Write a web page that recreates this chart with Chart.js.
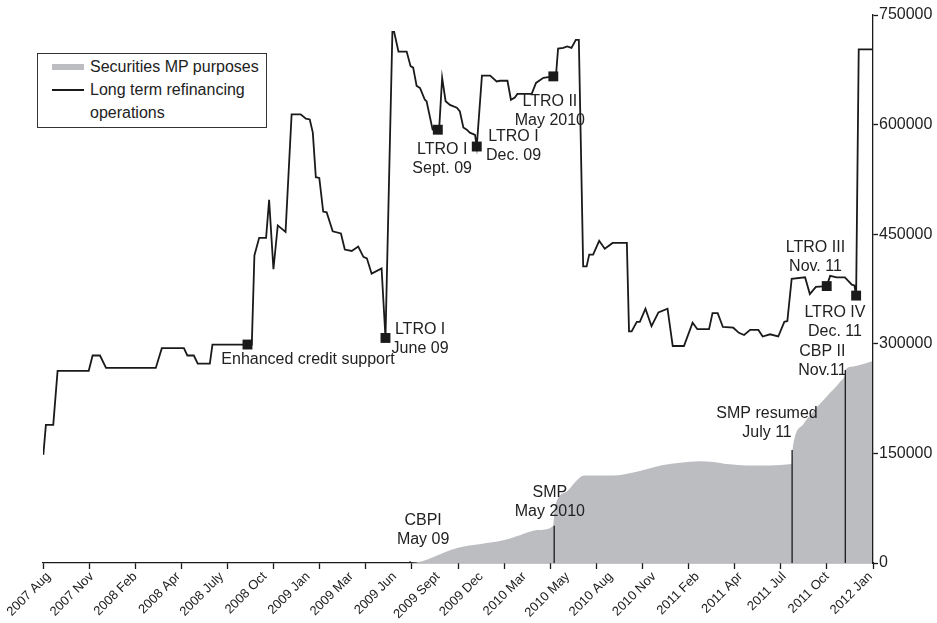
<!DOCTYPE html>
<html>
<head>
<meta charset="utf-8">
<script src="https://cdn.jsdelivr.net/npm/chart.js@4.4.1/dist/chart.umd.min.js"></script>
<style>
  html, body { margin: 0; padding: 0; background: #fff; }
  #wrap { position: relative; width: 937px; height: 623px; }
  #legend {
    position: absolute; left: 37px; top: 53px; width: 228px; height: 73px;
    border: 1px solid #333; background: #fff;
    font-family: "Liberation Sans", Arial, sans-serif; font-size: 16px; color: #222;
  }
  .sw { position: absolute; left: 14px; width: 32px; }
  .lt { position: absolute; left: 52px; line-height: 23px; white-space: nowrap; }
</style>
</head>
<body>
<div id="wrap">
  <canvas id="c" width="937" height="623"></canvas>
  <div id="legend">
    <div class="sw" style="top:10px;height:6px;background:#bcbdc1;"></div>
    <div class="lt" style="top:1px;">Securities MP purposes</div>
    <div class="sw" style="top:35px;height:2px;background:#1a1a1a;"></div>
    <div class="lt" style="top:24px;">Long term refinancing<br>operations</div>
  </div>
</div>
<script>
// ---- tick labels (category names along the x axis) ----
const xLabels = ['2007 Aug','2007 Nov','2008 Feb','2008 Apr','2008 July','2008 Oct','2009 Jan','2009 Mar',
  '2009 Jun','2009 Sept','2009 Dec','2010 Mar','2010 May','2010 Aug','2010 Nov','2011 Feb','2011 Apr',
  '2011 Jul','2011 Oct','2012 Jan'];

// ---- Long term refinancing operations (x in label index units, y in EUR mn) ----
const ltroX = [-0.12,-0.06,0.11,0.21,0.93,1.02,1.19,1.33,2.48,2.62,3.13,3.21,3.36,3.45,3.73,3.79,4.60,4.70,4.76,4.87,
  5.03,5.10,5.20,5.30,5.48,5.62,5.83,5.95,6.04,6.11,6.18,6.26,6.35,6.43,6.57,6.76,6.85,7.01,7.16,7.28,
  7.36,7.47,7.70,7.79,7.95,7.99,8.09,8.28,8.37,8.43,8.51,8.59,8.70,8.74,8.88,9.00,9.03,9.10,9.18,9.28,
  9.44,9.51,9.59,9.67,9.74,9.86,9.90,10.02,10.21,10.36,10.44,10.61,10.69,10.78,10.84,11.17,11.27,11.44,11.67,11.73,
  11.78,11.90,11.99,12.09,12.19,12.26,12.36,12.44,12.50,12.59,12.73,12.86,13.04,13.37,13.42,13.48,13.60,13.67,13.80,13.94,
  14.10,14.31,14.43,14.69,14.89,15.00,15.27,15.35,15.47,15.59,15.83,15.96,16.08,16.22,16.41,16.51,16.68,16.87,17.01,17.08,
  17.18,17.49,17.60,17.74,17.99,18.07,18.22,18.41,18.57,18.63,18.67,18.73,19.04];
const ltroY = [148000,189000,189000,263000,263000,284000,284000,267000,267000,294000,294000,284000,284000,273000,273000,299000,299000,299000,421000,445000,
  445000,497000,402000,462000,453000,614000,614000,608000,607000,589000,528000,527000,481000,480000,454000,451000,429000,427000,433000,419000,
  417000,396000,403000,308000,727000,727000,700000,700000,680000,678000,653000,650000,634000,632000,593000,593000,593000,664000,632000,627000,
  623000,618000,596000,593000,589000,586000,570000,667000,667000,659000,660000,660000,634000,637000,642000,642000,657000,664000,666000,666000,
  704000,705000,707000,705000,716000,716000,406000,406000,422000,422000,441000,430000,438000,438000,317000,317000,330000,330000,348000,324000,
  343000,348000,297000,297000,329000,320000,320000,342000,342000,323000,322000,315000,312000,319000,319000,310000,313000,310000,330000,331000,
  389000,391000,368000,378000,379000,393000,391000,391000,381000,380000,366000,703000,703000];

// ---- Securities held for monetary policy purposes ----
const smpX = [-0.12,8.36,9.47,10.00,10.51,10.90,11.30,11.67,11.70,11.98,12.21,12.38,13.06,13.52,14.21,14.60,15.06,15.37,15.75,16.14,17.18,
  17.20,17.45,17.76,17.99,18.30,18.41,18.43,18.60,19.04];
const smpY = [0,0,21000,26000,31000,38000,45000,50700,75000,98000,113000,119600,119600,123700,134000,137300,139300,138400,135000,133300,135600,
  154800,190000,213000,228000,248000,258000,265000,269000,276000];

// ---- Programme start markers on the LTRO line ----
const markerX = [4.60,7.79,9.00,9.90,11.67,17.99,18.67];
const markerY = [299000,308000,593000,570000,666000,379000,366000];

// ---- Vertical event lines under the securities area ----
const eventX = [8.36,11.69,17.19,18.42];
const eventTop = [2500,51000,154800,264000];

// ---- Annotation texts and anchor (first line centre) in data units ----
const noteText = ['Enhanced credit support','LTRO I\nJune 09','LTRO I\nSept. 09','LTRO I\nDec. 09','LTRO II\nMay 2010',
  'LTRO III\nNov. 11','LTRO IV\nDec. 11','CBP II\nNov.11','SMP resumed\nJuly 11','SMP\nMay 2010','CBPI\nMay 09'];
const noteX = [6.00,8.59,9.10,10.75,11.59,17.73,18.18,17.89,16.61,11.59,8.66];
const noteY = [279000,319000,565800,583200,632000,432000,342900,289500,204000,96300,57900];

// ---- y axis ----
const yMax = 750000, yStep = 150000;

const X_MIN = -0.127, X_MAX = 19.06;
const FONT = '"Liberation Sans", Arial, Helvetica, sans-serif';
const INK = '#1a1a1a';

const notesPlugin = {
  id: 'notes',
  afterDatasetsDraw(chart) {
    const {ctx, scales} = chart;
    ctx.save();
    ctx.font = '16px ' + FONT;
    ctx.fillStyle = '#222';
    ctx.textAlign = 'center';
    ctx.textBaseline = 'middle';
    noteText.forEach((txt, i) => {
      const px = scales.x.getPixelForValue(noteX[i]);
      const py = scales.y.getPixelForValue(noteY[i]);
      txt.split('\n').forEach((t, j) => ctx.fillText(t, px, py + j * 19));
    });
    ctx.restore();
  }
};

const datasets = [
  {
    label: 'Programme markers', type: 'line', showLine: false, order: 0,
    data: markerX.map((x, i) => ({x, y: markerY[i]})),
    pointStyle: 'rect', pointRadius: 7, pointHoverRadius: 7,
    backgroundColor: INK, borderWidth: 0
  },
  {
    label: 'Long term refinancing operations', type: 'line', order: 1,
    data: ltroX.map((x, i) => ({x, y: ltroY[i]})),
    borderColor: INK, borderWidth: 1.8, pointRadius: 0, tension: 0, fill: false
  },
  ...eventX.map((x, i) => ({
    label: 'event ' + i, type: 'line', order: 2,
    data: [{x, y: 0}, {x, y: eventTop[i]}],
    borderColor: INK, borderWidth: 1.3, pointRadius: 0, fill: false
  })),
  {
    label: 'Securities MP purposes', type: 'line', order: 3,
    data: smpX.map((x, i) => ({x, y: smpY[i]})),
    borderWidth: 0, borderColor: 'rgba(0,0,0,0)', backgroundColor: '#bcbdc1',
    pointRadius: 0, fill: 'origin', cubicInterpolationMode: 'monotone'
  }
];

new Chart(document.getElementById('c'), {
  type: 'line',
  data: { datasets },
  plugins: [notesPlugin],
  options: {
    responsive: false, animation: false, devicePixelRatio: 1,
    layout: { padding: { left: 43, top: 15, right: 4, bottom: 0 } },
    plugins: { legend: { display: false }, tooltip: { enabled: false } },
    scales: {
      x: {
        type: 'linear', position: 'bottom', weight: 0, min: X_MIN, max: X_MAX,
        afterBuildTicks(s) {
          s.ticks = Array.from({length: 19}, (_, k) => ({value: X_MIN + k * (X_MAX - X_MIN) / 18}));
        },
        afterFit(s) { s.height = 6; s.paddingLeft = 0; s.paddingRight = 0; },
        ticks: { display: false },
        grid: { display: true, drawOnChartArea: false, drawTicks: true, tickLength: 6, tickColor: INK, tickWidth: 1.3 },
        border: { display: true, color: INK, width: 1.3 }
      },
      xl: {
        type: 'linear', position: 'bottom', weight: 1, min: X_MIN, max: X_MAX,
        afterBuildTicks(s) { s.ticks = xLabels.map((_, i) => ({value: i})); },
        afterFit(s) { s.height = 54; s.paddingLeft = 0; s.paddingRight = 0; },
        ticks: {
          autoSkip: false, minRotation: 45, maxRotation: 45, padding: 0, color: '#222',
          font: { family: FONT, size: 13 },
          callback: (v, i) => xLabels[i]
        },
        grid: { display: false, drawTicks: false },
        border: { display: false }
      },
      y: {
        type: 'linear', position: 'right', min: 0, max: yMax,
        afterBuildTicks(s) {
          const t = [];
          for (let v = 0; v <= yMax; v += yStep) t.push({value: v});
          s.ticks = t;
        },
        afterFit(s) { s.width = 60; s.paddingTop = 0; s.paddingBottom = 0; },
        ticks: { padding: 1, color: '#222', font: { family: FONT, size: 16 }, callback: v => String(v) },
        grid: { display: true, drawOnChartArea: false, drawTicks: true, tickLength: 5, tickColor: INK, tickWidth: 1.3 },
        border: { display: true, color: INK, width: 1.3 }
      }
    }
  }
});
</script>
</body>
</html>
